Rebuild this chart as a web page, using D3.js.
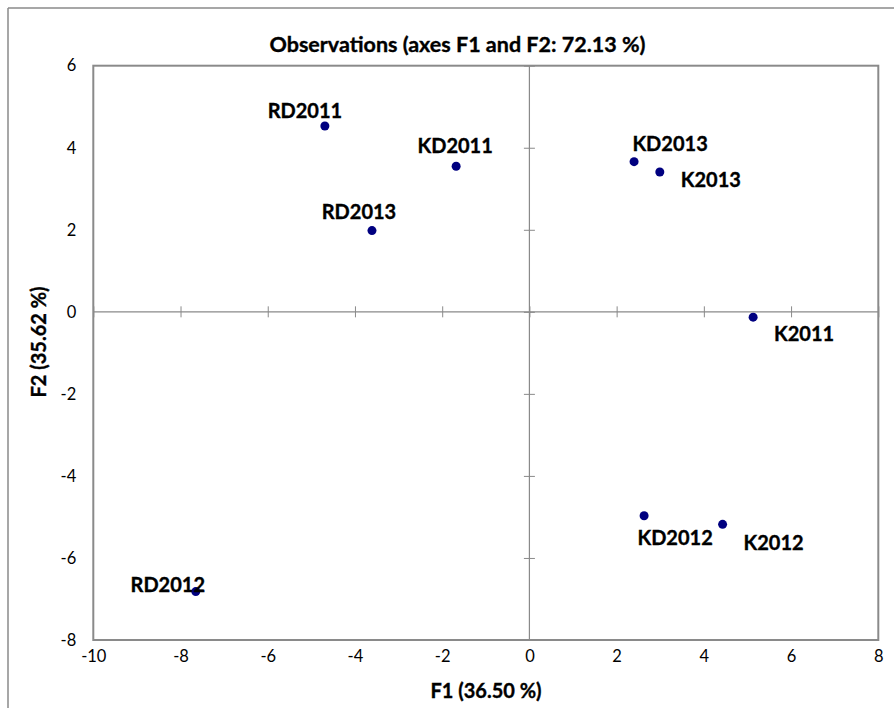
<!DOCTYPE html>
<html>
<head>
<meta charset="utf-8">
<script src="https://cdn.jsdelivr.net/npm/d3@7"></script>
<style>
  html, body { margin: 0; padding: 0; background: #fff; }
  svg { display: block; }
</style>
</head>
<body>
<svg id="chart" width="894" height="708"></svg>
<script>
// Observation scores on the first two factorial axes
const names = ["RD2011", "KD2011", "RD2013", "KD2013", "K2013", "K2011", "KD2012", "K2012", "RD2012"];
const f1 = [-4.69, -1.68, -3.61, 2.40, 2.99, 5.13, 2.63, 4.43, -7.65];
const f2 = [4.53, 3.55, 1.98, 3.66, 3.41, -0.13, -4.97, -5.18, -6.82];

const xTicks = [-10, -8, -6, -4, -2, 0, 2, 4, 6, 8];
const yTicks = [-8, -6, -4, -2, 0, 2, 4, 6];

const titleText = "Observations (axes F1 and F2: 72.13 %)";
const xTitle = "F1 (36.50 %)";
const yTitle = "F2 (35.62 %)";

// Label placement relative to each point (pixels: dx to label centre, dy to baseline)
const labelShift = {
  RD2011: [-20, -8], KD2011: [-1, -13], RD2013: [-13, -12],
  KD2013: [36, -11], K2013: [51, 15], K2011: [51, 24],
  KD2012: [31, 29], K2012: [51, 26], RD2012: [-28, 0]
};

const svg = d3.select("#chart");
const frame = { left: 93.3, right: 878.3, top: 65.7, bottom: 640 };

const x = d3.scaleLinear().domain([-10, 8]).range([frame.left, frame.right]);
const y = d3.scaleLinear().domain([-8, 6]).range([frame.bottom, frame.top]);

const grey = "#8a8a8a";
const font = "Lato, 'Open Sans', sans-serif";
const plain = d => String(d); // hyphen-minus, as in the spreadsheet output

// Outer chart border (top and left edges visible)
svg.append("line").attr("x1", 8).attr("x2", 894).attr("y1", 8).attr("y2", 8)
  .attr("stroke", grey).attr("stroke-width", 1.5);
svg.append("line").attr("x1", 8).attr("x2", 8).attr("y1", 8).attr("y2", 708)
  .attr("stroke", grey).attr("stroke-width", 1.5);

// Bold text helper with a slightly heavier stroke
function bold(sel, size) {
  return sel.attr("font-family", font).attr("font-weight", "bold")
    .attr("font-size", size).attr("fill", "#000")
    .attr("stroke", "#000").attr("stroke-width", 0.35);
}

// Title
svg.append("text").attr("x", 457.5).attr("y", 52)
  .attr("text-anchor", "middle").call(bold, 21.5)
  .text(titleText);

// Zero axes through the origin, with crossing tick marks
const axisX = d3.axisBottom(x).tickValues(xTicks).tickSizeInner(11).tickSizeOuter(0).tickFormat("");
svg.append("g").attr("transform", `translate(0,${y(0) - 5.5})`).call(axisX)
  .call(g => g.select(".domain").remove())
  .call(g => g.selectAll(".tick line").attr("stroke", grey));
svg.append("line").attr("x1", frame.left).attr("x2", frame.right)
  .attr("y1", y(0)).attr("y2", y(0)).attr("stroke", grey).attr("stroke-width", 1.2);

const axisY = d3.axisRight(y).tickValues(yTicks).tickSizeInner(11).tickSizeOuter(0).tickFormat("");
svg.append("g").attr("transform", `translate(${x(0) - 5.5},0)`).call(axisY)
  .call(g => g.select(".domain").remove())
  .call(g => g.selectAll(".tick line").attr("stroke", grey));
svg.append("line").attr("x1", x(0)).attr("x2", x(0))
  .attr("y1", frame.top).attr("y2", frame.bottom).attr("stroke", grey).attr("stroke-width", 1.2);

// Plot frame
svg.append("rect").attr("x", frame.left).attr("y", frame.top)
  .attr("width", frame.right - frame.left).attr("height", frame.bottom - frame.top)
  .attr("fill", "none").attr("stroke", grey).attr("stroke-width", 2);

// Tick labels along the frame edges
const xLab = d3.axisBottom(x).tickValues(xTicks).tickSize(0).tickPadding(0).tickFormat(plain);
svg.append("g").attr("transform", `translate(0,${frame.bottom + 17})`).call(xLab)
  .call(g => g.select(".domain").remove())
  .call(g => g.selectAll("text").attr("font-family", font).attr("font-size", 16.5)
    .attr("fill", "#000").attr("dy", "0.32em"));

const yLab = d3.axisLeft(y).tickValues(yTicks).tickSize(0).tickPadding(17).tickFormat(plain);
svg.append("g").attr("transform", `translate(${frame.left},0)`).call(yLab)
  .call(g => g.select(".domain").remove())
  .call(g => g.selectAll("text").attr("font-family", font).attr("font-size", 16.5)
    .attr("fill", "#000"));

// Axis titles
svg.append("text").attr("x", 486).attr("y", 698)
  .attr("text-anchor", "middle").call(bold, 20)
  .text(xTitle);
svg.append("text").attr("transform", "translate(46,342) rotate(-90)")
  .attr("text-anchor", "middle").call(bold, 20)
  .text(yTitle);

// Observation points and their labels
const obs = names.map((n, i) => ({ name: n, f1: f1[i], f2: f2[i] }));

svg.append("g").selectAll("circle").data(obs).join("circle")
  .attr("cx", d => x(d.f1)).attr("cy", d => y(d.f2)).attr("r", 4.5)
  .attr("fill", "#000080");

svg.append("g").selectAll("text").data(obs).join("text")
  .attr("x", d => x(d.f1) + labelShift[d.name][0])
  .attr("y", d => y(d.f2) + labelShift[d.name][1])
  .attr("text-anchor", "middle").call(bold, 20)
  .text(d => d.name);
</script>
</body>
</html>
